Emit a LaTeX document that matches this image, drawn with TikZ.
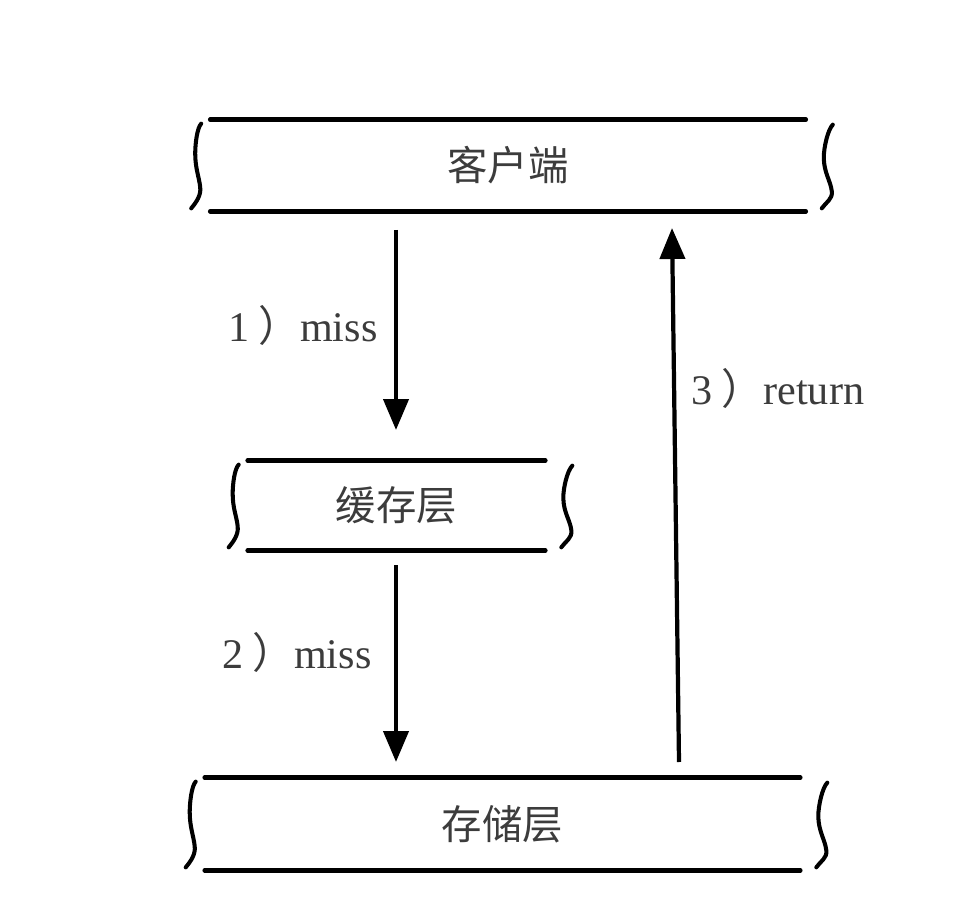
\documentclass[tikz,border=0pt]{standalone}
\usepackage{fontspec}
\setmainfont{Liberation Serif}
\newfontfamily\cjk{Noto Sans CJK SC}
\usetikzlibrary{arrows.meta,positioning}

\definecolor{inkgray}{HTML}{3C3C3C}

% hand drawn layer: two rules and two wavy sides
\newcommand{\sketchlayer}[1]{%
    \draw[line width=2.6pt, line cap=round] (#1.north west) -- (#1.north east);
    \draw[line width=2.6pt, line cap=round] (#1.south west) -- (#1.south east);
    \draw[line width=2.3pt, line cap=round]
        ([shift={(-9,4)}]#1.north west) .. controls +(-4,4) and +(0,-10) ..
        ([shift={(-15,-12)}]#1.west) .. controls +(0,15) and +(-1,-10) ..
        ([shift={(-10,-24)}]#1.south west) .. controls +(1,8) and +(5,-6) ..
        ([shift={(-19,-3)}]#1.south west);
    \draw[line width=2.3pt, line cap=round]
        ([shift={(27,5)}]#1.north east) .. controls +(-5,5) and +(0,-10) ..
        ([shift={(18,-8)}]#1.east) .. controls +(0,15) and +(-1,-10) ..
        ([shift={(26,-20)}]#1.south east) .. controls +(1,8) and +(4,-6) ..
        ([shift={(16,-3)}]#1.south east);
}

\begin{document}
\begin{tikzpicture}[x=0.02cm, y=-0.02cm,
        layer/.style = {rectangle, inner sep=0pt,
            font=\cjk\fontsize{23}{28}\selectfont, text=inkgray},
        steplabel/.style = {inner sep=0pt, text=inkgray,
            font=\fontsize{24}{28}\selectfont},
        flow/.style = {line width=2.4pt,
            -{Triangle[length=0.62cm,width=0.5cm]}}]

    \useasboundingbox (0,0) rectangle (960,898);

    % Layers
    \node[layer, minimum width=11.9cm, minimum height=1.82cm] (client) at (508,165.5) {客户端};
    \node[layer, minimum width=5.94cm, minimum height=1.78cm] (cache) at (396.5,505.5) {缓存层};
    \node[layer, minimum width=11.9cm, minimum height=1.84cm] (storage) at (502.5,824) {存储层};

    \sketchlayer{client}
    \sketchlayer{cache}
    \sketchlayer{storage}

    % Arrow ends
    \coordinate (missA) at (396,230);
    \coordinate (missB) at (396,430);
    \coordinate (missC) at (396,565);
    \coordinate (missD) at (396,762);
    \coordinate (retA) at (679,762);
    \coordinate (retB) at (672,228);

    % Flow
    \draw[flow] (missA) -- (missB);
    \draw[flow] (missC) -- (missD);
    \draw[flow] (retA) -- (retB);

    % Step labels
    \node[steplabel] (stepone) at (303,325) {1\kern0.2em{\cjk ）}miss};
    \node[steplabel] (steptwo) at (297,652) {2\kern0.2em{\cjk ）}miss};
    \node[steplabel] (stepthree) at (778,388) {3\kern0.2em{\cjk ）}return};

\end{tikzpicture}
\end{document}
